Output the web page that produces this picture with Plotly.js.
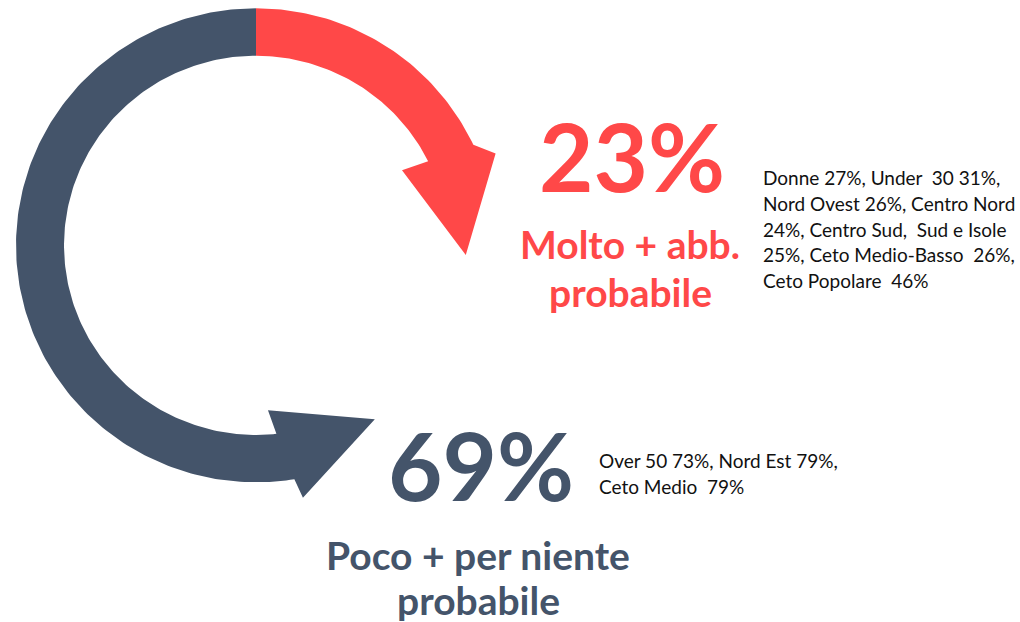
<!DOCTYPE html>
<html>
<head>
<meta charset="utf-8">
<script src="https://cdn.plot.ly/plotly-3.0.1.min.js"></script>
<style>
  html, body { margin: 0; padding: 0; background: #ffffff; }
  #chart { width: 1020px; height: 622px; }
</style>
</head>
<body>
<div id="chart"></div>
<script>
// ---------------------------------------------------------------------------
// Data: two answer groups, their share and the
// sub-groups quoted next to each one.
// ---------------------------------------------------------------------------
const groupLabels = ['Molto + abb.<br>probabile', 'Poco + per niente<br>probabile'];
const groupShares = [23, 69];
const groupDetails = [
  'Donne 27%, Under  30 31%,<br>Nord Ovest 26%, Centro Nord<br>24%, Centro Sud,  Sud e Isole<br>25%, Ceto Medio-Basso  26%,<br>Ceto Popolare  46%',
  'Over 50 73%, Nord Est 79%,<br>Ceto Medio  79%',
];

const RED = '#FF4848';
const SLATE = '#44546A';
const groupColors = [RED, SLATE];

// ---------------------------------------------------------------------------
// Ring geometry. The axes are set up 1 unit = 1 px so the ring can be
// described in polar terms (degrees clockwise from 12 o'clock).
// ---------------------------------------------------------------------------
const CX = 256;
const CY = 245.3;
const SY = 0.9875;      // slight vertical squash of the ring
const R_OUT = 240;
const R_IN = 192;

const ARROWS = [
  // red: clockwise from the top
  { start: 0, endOut: 64.9, endIn: 63.7,
    wingOut: [68.8, 257], wingIn: [62.5, 164.6], tip: [92.7, 210] },
  // slate: anticlockwise from the top, round the left side
  { start: 360, endOut: 170.8, endIn: 173.9,
    wingOut: [169.6, 260], wingIn: [175.9, 167.4], tip: [146, 212.5] },
];

function pt(deg, r) {
  const a = deg * Math.PI / 180;
  return [CX + r * Math.sin(a), CY - r * SY * Math.cos(a)];
}

function arc(from, to, r, xs, ys) {
  const n = Math.max(2, Math.ceil(Math.abs(to - from)));
  for (let i = 0; i <= n; i++) {
    const p = pt(from + (to - from) * i / n, r);
    xs.push(p[0]);
    ys.push(p[1]);
  }
}

function arrowTrace(g, color) {
  const xs = [];
  const ys = [];
  arc(g.start, g.endOut, R_OUT, xs, ys);
  [g.wingOut, g.tip, g.wingIn].forEach(([d, r]) => {
    const p = pt(d, r);
    xs.push(p[0]);
    ys.push(p[1]);
  });
  arc(g.endIn, g.start, R_IN, xs, ys);
  return {
    x: xs, y: ys,
    type: 'scatter', mode: 'lines',
    fill: 'toself', fillcolor: color,
    line: { width: 0, color: color },
    hoverinfo: 'skip', showlegend: false,
  };
}

const traces = ARROWS.map((g, i) => arrowTrace(g, groupColors[i]));

// ---------------------------------------------------------------------------
// Text blocks: big share, group label under it, sub-group detail to the right.
// Multi-line blocks are laid out one annotation per line so the leading can
// follow the reference rather than Plotly's fixed 1.3em.
// ---------------------------------------------------------------------------
const TEXT_POS = [
  { share: [632, 155], label: [630, 218.5], labelGap: 48.5, detail: [761, 164] },
  { share: [481, 464], label: [478, 529.5], labelGap: 45, detail: [597, 447] },
];
const DETAIL_GAP = 25.8;

const annotations = [];

function addLines(text, x, y, gap, anchor, font) {
  text.split('<br>').forEach((line, k) => {
    annotations.push({
      x, y: y + k * gap, xref: 'x', yref: 'y',
      text: line, showarrow: false, xanchor: anchor, yanchor: 'top',
      align: anchor === 'left' ? 'left' : 'center',
      font,
    });
  });
}

groupShares.forEach((v, i) => {
  const p = TEXT_POS[i];
  annotations.push({
    x: p.share[0], y: p.share[1], xref: 'x', yref: 'y',
    text: v + '%', showarrow: false, xanchor: 'center', yanchor: 'middle',
    font: { family: 'Lato', size: 94, color: groupColors[i], weight: 'bold' },
  });
  addLines(groupLabels[i], p.label[0], p.label[1], p.labelGap, 'center',
    { family: 'Lato', size: 39, color: groupColors[i], weight: 'bold' });
  addLines(groupDetails[i], p.detail[0], p.detail[1], DETAIL_GAP, 'left',
    { family: 'Lato', size: 19, color: '#111111' });
});

const hidden = {
  visible: false, fixedrange: true, showgrid: false, zeroline: false,
};

Plotly.newPlot('chart', traces, {
  width: 1020,
  height: 622,
  margin: { l: 0, r: 0, t: 0, b: 0, pad: 0 },
  paper_bgcolor: '#ffffff',
  plot_bgcolor: '#ffffff',
  xaxis: { ...hidden, range: [0, 1020] },
  yaxis: { ...hidden, range: [622, 0] },
  annotations,
  showlegend: false,
}, { staticPlot: true, displayModeBar: false });
</script>
</body>
</html>
